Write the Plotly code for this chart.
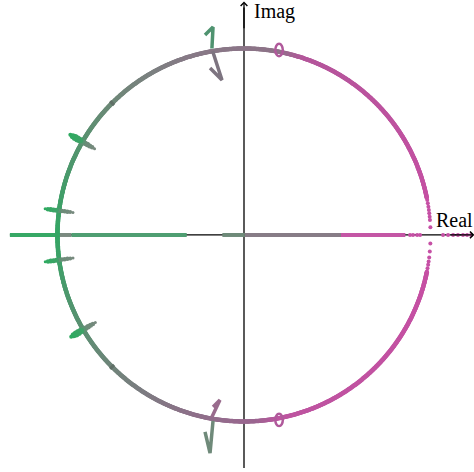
import numpy as np
import plotly.graph_objects as go

# colour of the unit circle against its angle (degrees)
circle_stop_deg = [0, 72, 80, 108, 135, 150, 180, 209, 225, 252, 274, 281, 360]
circle_stop_col = ["#c84fa4", "#b4569b", "#8e7388", "#877a87", "#6e8878", "#589270",
                   "#34a665", "#5a9172", "#6f857a", "#8c7289", "#9b6690", "#bd55a0", "#c84fa4"]

# sparse samples of the circle near angle 0
circle_dot_deg = [10.8, 9.8, 8.7, 7.7, 6.7, 5.6, 4.6, 2.4,
                  -2.6, -5.1, -6.9, -8.2, -9.2, -10.3, -11.3]

# real-axis pieces (inside the circle and to the left of it)
inner_start = [-0.116, 0.005, 0.52]
inner_end = [0.005, 0.52, 0.865]
left_start = [-1.255, -0.995, -0.925]
left_end = [-0.995, -0.925, -0.307]
real_dots = [0.89, 0.906, 0.928, 0.944, 1.067, 1.094, 1.121, 1.147, 1.174, 1.196, 1.217]

# radial strokes crossing the circle
stroke_deg = [150.0, 172.5, 187.7, 210.5]
stroke_r = [0.925, 0.94, 0.955, 0.97, 0.985, 1.0, 1.015, 1.03, 1.045, 1.06, 1.075]
tick_deg = [135.0, 225.0]

# small loops on the circle
loop_re = [0.188, 0.188]
loop_im = [0.992, -0.992]

# half-arrows near the top and bottom
harpoons = [
    ([-0.172, -0.166, -0.209], [1.0, 1.115, 1.072]),
    ([-0.168, -0.118, -0.182], [0.985, 0.831, 0.895]),
    ([-0.172, -0.129, -0.166], [-0.976, -0.885, -0.922]),
    ([-0.166, -0.182, -0.209], [-0.997, -1.169, -1.056]),
]
harpoon_col = ["#4f9370", "#7d7480", "#996b8d", "#6f8a7a"]

fig = go.Figure()

# axes
fig.add_trace(go.Scatter(x=[-1.255, 1.2], y=[0, 0], mode="lines",
                         line=dict(color="black", width=1.3)))
fig.add_trace(go.Scatter(x=[0, 0], y=[-1.249, 1.22], mode="lines",
                         line=dict(color="black", width=1.3)))

# real axis coloured line
inner_col = ["#6e8a79", "#877c86", "#c456a5"]
for a, b, c in zip(inner_start, inner_end, inner_col):
    fig.add_trace(go.Scatter(x=[a, b], y=[0, 0], mode="lines", line=dict(color=c, width=4)))
left_col = ["#36a865", "#7a8a80", "#4f9e72"]
for a, b, c in zip(left_start, left_end, left_col):
    fig.add_trace(go.Scatter(x=[a, b], y=[0, 0], mode="lines", line=dict(color=c, width=4)))
fig.add_trace(go.Scatter(x=real_dots, y=[0] * len(real_dots), mode="markers",
                         marker=dict(color="#c650a5", size=4)))

# unit circle
scale = [[d / 360, c] for d, c in zip(circle_stop_deg, circle_stop_col)]
theta = np.arange(11.5, 348.75, 0.25)
fig.add_trace(go.Scatter(
    x=np.cos(np.radians(theta)), y=np.sin(np.radians(theta)), mode="markers",
    marker=dict(size=4.5, color=theta, colorscale=scale, cmin=0, cmax=360),
))
dots = np.radians(circle_dot_deg)
fig.add_trace(go.Scatter(x=np.cos(dots), y=np.sin(dots), mode="markers",
                         marker=dict(color="#c650a5", size=4)))

# radial strokes
big = [3, 4.5, 5, 5.5, 5.5, 6, 6.5, 7, 7, 6, 4]
small = [3, 4, 4.5, 4.5, 4.5, 4.5, 5, 5, 5, 4.5, 3]
stroke_scale = [[0, "#788a7f"], [0.45, "#6a8c78"], [0.6, "#3fa268"], [1, "#2eaa60"]]
r = np.array(stroke_r)
for i, d in enumerate(stroke_deg):
    a = np.radians(d)
    fig.add_trace(go.Scatter(
        x=r * np.cos(a), y=r * np.sin(a), mode="markers",
        marker=dict(size=big if i in (0, 3) else small, color=r, colorscale=stroke_scale,
                    cmin=stroke_r[0], cmax=stroke_r[-1], opacity=1,
                    line=dict(width=0)),
    ))
for d in tick_deg:
    a = np.radians(d)
    rr = np.array([0.985, 1.015])
    fig.add_trace(go.Scatter(x=rr * np.cos(a), y=rr * np.sin(a), mode="lines",
                             line=dict(color="#5f6f66", width=3)))

# harpoons
for (hx, hy), c in zip(harpoons, harpoon_col):
    fig.add_trace(go.Scatter(x=hx, y=hy, mode="lines", line=dict(color=c, width=3.5)))

# loops
for lx, ly in zip(loop_re, loop_im):
    fig.add_shape(type="circle", xref="x", yref="y", x0=lx - 0.02, x1=lx + 0.02,
                  y0=ly - 0.033, y1=ly + 0.033, line=dict(color="#b0599b", width=2.5))

# arrow tips and labels
fig.add_annotation(x=1.235, y=0, ax=1.1, ay=0, xref="x", yref="y", axref="x", ayref="y",
                   text="", showarrow=True, arrowhead=4, arrowsize=1, arrowwidth=1.3,
                   arrowcolor="black")
fig.add_annotation(x=0, y=1.252, ax=0, ay=1.1, xref="x", yref="y", axref="x", ayref="y",
                   text="", showarrow=True, arrowhead=4, arrowsize=1, arrowwidth=1.3,
                   arrowcolor="black")
label_font = dict(family="Liberation Serif", size=20, color="black")
fig.add_annotation(x=0.045, y=1.2, text="Imag", showarrow=False, xanchor="left",
                   yanchor="middle", font=label_font)
fig.add_annotation(x=1.02, y=0.082, text="Real", showarrow=False, xanchor="left",
                   yanchor="middle", font=label_font)

fig.update_layout(
    width=474, height=472, autosize=False,
    margin=dict(l=0, r=0, t=0, b=0),
    paper_bgcolor="white", plot_bgcolor="white",
    showlegend=False,
    xaxis=dict(range=[-1.308, 1.233], visible=False),
    yaxis=dict(range=[-1.271, 1.260], visible=False),
)
fig.write_html("out.html", config={"displayModeBar": False},
               post_script="document.body.style.margin = '0';")
